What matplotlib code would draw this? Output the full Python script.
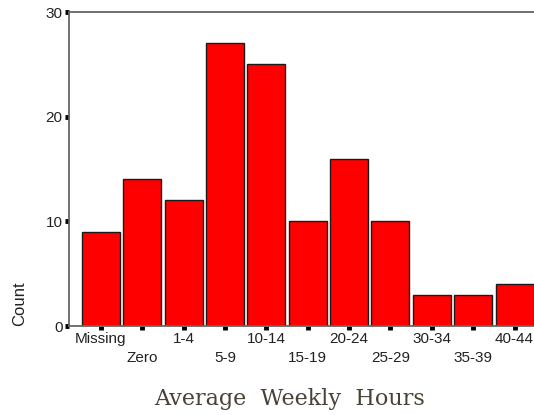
import matplotlib.pyplot as plt
import numpy as np

categories = ['Missing', 'Zero', '1-4', '5-9', '10-14', '15-19',
              '20-24', '25-29', '30-34', '35-39', '40-44']
counts = [9, 14, 12, 27, 25, 10, 16, 10, 3, 3, 4]
y_ticks = [0, 10, 20, 30]

fig = plt.figure(figsize=(5.34, 4.15), dpi=100)
ax = fig.add_axes([69 / 534, 1 - 326 / 415, 1 - 69 / 534, (326 - 12) / 415])

x = np.arange(len(categories))
ax.bar(x, counts, width=0.92, color='#ff0000', edgecolor='#1a1a1a', linewidth=1.0, zorder=2)

ax.set_xlim(-0.77, 10.47)
ax.set_ylim(0, 30)

# staggered labels: every other one drops to a second row
labels = [c if i % 2 == 0 else '\n' + c for i, c in enumerate(categories)]
ax.set_xticks(x)
ax.set_xticklabels(labels, fontsize=11, family='Liberation Sans', color='#222222', linespacing=1.45)
ax.set_yticks(y_ticks)
ax.set_yticklabels([str(v) for v in y_ticks], fontsize=11, family='Liberation Sans', color='#222222')
ax.tick_params(axis='both', length=3, width=3.5, color='black', direction='out', pad=1.5)

for side in ['left', 'bottom', 'top']:
    ax.spines[side].set_color('#666666')
    ax.spines[side].set_linewidth(1.3)
ax.spines['right'].set_visible(False)

fig.text(20 / 534, 1 - 304 / 415, 'Count', rotation=90, fontsize=12, family='Liberation Sans',
         color='#222222', ha='center', va='center')
fig.text(290 / 534, 1 - 399 / 415, 'Average  Weekly  Hours', fontsize=16, family='DejaVu Serif',
         color='#4a4238', ha='center', va='center')

fig.savefig('out.png', dpi=100)
